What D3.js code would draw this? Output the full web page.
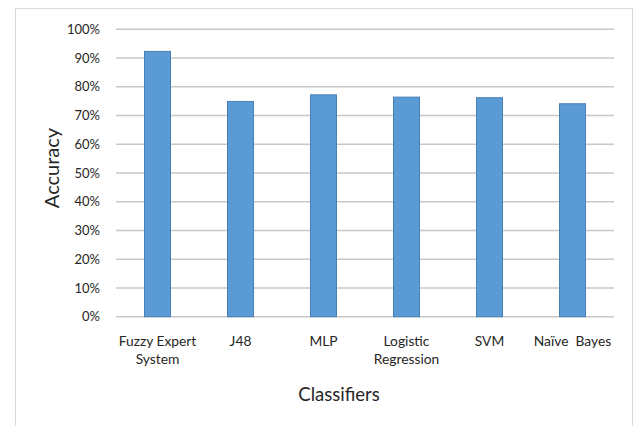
<!DOCTYPE html>
<html>
<head>
<meta charset="utf-8">
<script src="https://cdn.jsdelivr.net/npm/d3@7"></script>
<style>
  html, body { margin: 0; padding: 0; background: #fff; }
  svg { display: block; }
  text { font-family: Lato, "Open Sans", sans-serif; fill: #262626; }
</style>
</head>
<body>
<svg id="chart" width="635" height="426"></svg>
<script>
// Classifier accuracies
const categories = [["Fuzzy Expert", "System"], ["J48"], ["MLP"], ["Logistic", "Regression"], ["SVM"], ["Naïve  Bayes"]];
const accuracy = [0.923, 0.749, 0.772, 0.764, 0.762, 0.741];
const yTicks = [0, 0.1, 0.2, 0.3, 0.4, 0.5, 0.6, 0.7, 0.8, 0.9, 1.0];

const svg = d3.select("#chart");
const W = 635, H = 426;
const m = { left: 116, right: 21, top: 29.3, bottom: 109.3 };

// Chart frame
svg.append("rect")
  .attr("x", 15.5).attr("y", 8.5)
  .attr("width", 617).attr("height", 430)
  .attr("fill", "#fff").attr("stroke", "#d9d9d9").attr("stroke-width", 1);

const x = d3.scaleBand()
  .domain(d3.range(categories.length))
  .range([m.left, W - m.right])
  .paddingInner(0.687).paddingOuter(0.3435);

const y = d3.scaleLinear().domain([0, 1]).range([H - m.bottom, m.top]);

// Gridlines
svg.append("g")
  .selectAll("line")
  .data(yTicks)
  .join("line")
  .attr("x1", m.left).attr("x2", W - m.right)
  .attr("y1", d => y(d)).attr("y2", d => y(d))
  .attr("stroke", "#c8c8c8").attr("stroke-width", 1.5);

// Y axis labels
const yAxis = d3.axisLeft(y).tickValues(yTicks).tickFormat(d3.format(".0%")).tickSize(0).tickPadding(16);
const gy = svg.append("g").attr("transform", `translate(${m.left},0)`).call(yAxis);
gy.select(".domain").remove();
gy.selectAll("text").attr("font-size", 13).attr("fill", "#262626")
  .style("font-family", "Lato, 'Open Sans', sans-serif");

// Bars
svg.append("g")
  .selectAll("rect")
  .data(accuracy)
  .join("rect")
  .attr("x", (d, i) => x(i))
  .attr("y", d => y(d))
  .attr("width", x.bandwidth())
  .attr("height", d => y(0) - y(d))
  .attr("fill", "#5b9bd5")
  .attr("stroke", "#4a7fb5")
  .attr("stroke-width", 1);

// X labels
const xl = svg.append("g");
categories.forEach((lines, i) => {
  const t = xl.append("text")
    .attr("x", x(i) + x.bandwidth() / 2)
    .attr("y", 346)
    .attr("text-anchor", "middle")
    .attr("font-size", 13.8);
  lines.forEach((ln, k) => {
    t.append("tspan")
      .attr("x", x(i) + x.bandwidth() / 2)
      .attr("dy", k === 0 ? 0 : 18)
      .style("white-space", "pre")
      .text(ln);
  });
});

// Axis titles
svg.append("text")
  .attr("x", 339).attr("y", 401)
  .attr("text-anchor", "middle")
  .attr("font-size", 18.5)
  .text("Classifiers");

svg.append("text")
  .attr("transform", "translate(59,168) rotate(-90)")
  .attr("text-anchor", "middle")
  .attr("font-size", 20)
  .text("Accuracy");
</script>
</body>
</html>
